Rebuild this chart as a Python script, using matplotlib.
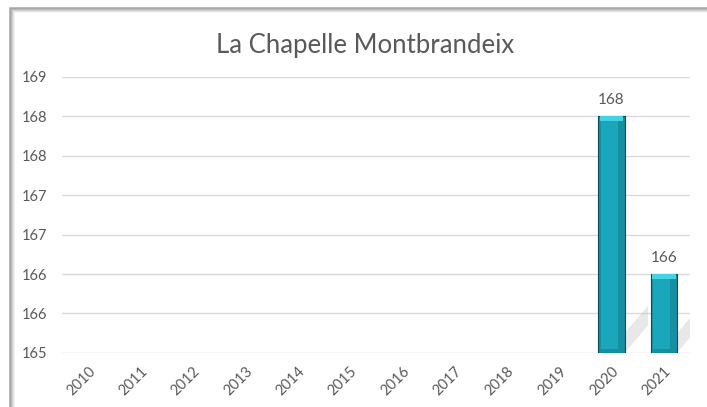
import matplotlib.pyplot as plt
from matplotlib.patches import Rectangle, Polygon
import numpy as np

years = ["2010", "2011", "2012", "2013", "2014", "2015",
         "2016", "2017", "2018", "2019", "2020", "2021"]
values = [None, None, None, None, None, None,
          None, None, None, None, 168, 166]
y_ticks = [165, 165.5, 166, 166.5, 167, 167.5, 168, 168.5]
title = "La Chapelle Montbrandeix"

plt.rcParams["font.family"] = ["Lato", "DejaVu Sans"]

fig = plt.figure(figsize=(7.07, 4.07), dpi=100)
ax = fig.add_axes([0.088, 0.133, 0.888, 0.678])

# chart frame with a grey shadow on top/left
for i, a in enumerate([0.7, 0.5, 0.35, 0.2, 0.1]):
    fig.patches.append(Rectangle((10 / 707 + i / 707, -0.1), 1.2, 1.1 - (8 + i) / 407,
                                 transform=fig.transFigure, fill=False,
                                 edgecolor="#8c8c8c", alpha=a, lw=1.2))

base = y_ticks[0]
x = np.arange(len(years))
bar_w = 0.5
for i, v in enumerate(values):
    if v is None:
        continue
    h = v - base
    # soft shadow behind the bar
    shadow = Polygon([(i + bar_w / 2, base), (i + bar_w / 2 + 0.45, base + 0.35),
                      (i + bar_w / 2 + 0.45, base + 0.6), (i + bar_w / 2, base + 0.25)],
                     closed=True, facecolor="#bfbfbf", alpha=0.35, edgecolor="none", zorder=2)
    ax.add_patch(shadow)
    ax.bar(i, h, bottom=base, width=bar_w, color="#168fa3", edgecolor="#0b4a56",
           linewidth=0.8, zorder=3)
    # lighter inner face to imitate the bevel
    ax.bar(i - 0.04, h - 0.1, bottom=base + 0.05, width=bar_w * 0.66,
           color="#1aa6bb", linewidth=0, zorder=4)
    ax.bar(i, 0.06, bottom=v - 0.06, width=bar_w * 0.9, color="#45d3e4",
           linewidth=0, zorder=4)
    ax.text(i, v + 0.12, f"{v:.0f}", ha="center", va="bottom",
            fontsize=11, color="#595959", zorder=5)

ax.set_xlim(-0.5, len(years) - 0.5)
ax.set_ylim(base, y_ticks[-1])
ax.set_yticks(y_ticks)
ax.set_yticklabels([f"{t + 1e-9:.0f}" for t in y_ticks])
ax.set_xticks(x)
ax.set_xticklabels(years, rotation=45, ha="right", rotation_mode="anchor")
ax.tick_params(length=0, labelsize=10.5, colors="#595959", pad=8)
ax.tick_params(axis="y", pad=29)
for lab in ax.get_yticklabels():
    lab.set_horizontalalignment("left")
ax.grid(axis="y", color="#d9d9d9", linewidth=1, zorder=0)
ax.set_axisbelow(True)
for s in ax.spines.values():
    s.set_visible(False)

fig.text(0.517, 0.888, title, ha="center", va="center", fontsize=18.5,
         color="#595959")

fig.savefig("out.png", dpi=100)
